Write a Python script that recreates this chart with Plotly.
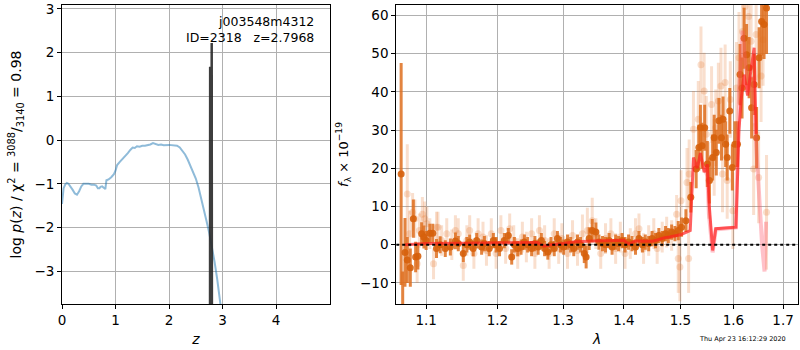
import numpy as np
import plotly.graph_objects as go

# ---------------- Left panel: p(z) ----------------
z_grid = [0.0, 0.03, 0.06, 0.09, 0.12, 0.16, 0.2, 0.24, 0.28, 0.32, 0.36, 0.4, 0.45, 0.5,
          0.55, 0.6, 0.64, 0.67, 0.7, 0.72, 0.75, 0.78, 0.81, 0.83, 0.87, 0.92, 0.97, 1.0,
          1.03, 1.08, 1.12, 1.18, 1.23, 1.28, 1.32, 1.36, 1.4, 1.45, 1.5, 1.55, 1.6, 1.65,
          1.7, 1.74, 1.8, 1.85, 1.9, 2.0, 2.1, 2.15, 2.2, 2.25, 2.3, 2.35, 2.4, 2.45, 2.5,
          2.55, 2.6, 2.65, 2.7, 2.75, 2.8, 2.85, 2.9, 2.95, 2.97]
logpz = [-1.46, -1.1, -1.02, -0.98, -1.0, -1.06, -1.14, -1.22, -1.25, -1.17, -1.06, -1.0,
         -1.0, -1.0, -1.02, -1.02, -1.04, -1.1, -1.1, -1.07, -1.06, -1.1, -1.12, -0.92, -0.9,
         -0.85, -0.78, -0.7, -0.57, -0.5, -0.45, -0.37, -0.3, -0.22, -0.17, -0.18, -0.14,
         -0.15, -0.13, -0.13, -0.12, -0.1, -0.07, -0.08, -0.11, -0.1, -0.12, -0.11, -0.12,
         -0.13, -0.17, -0.24, -0.33, -0.45, -0.58, -0.72, -0.88, -1.08, -1.32, -1.58, -1.85,
         -2.12, -2.42, -2.78, -3.18, -3.65, -3.85]
z_fine = [2.766, 2.768, 2.770, 2.793, 2.797, 2.801]
logpz_fine = [-3.9, 1.68, -3.9, -3.9, 2.22, -3.9]

obj_id = "j003548m4312"
obj_label = "ID=2318   z=2.7968"
timestamp = "Thu Apr 23 16:12:29 2020"

# ---------------- Right panel: spectrum ----------------
wave_bin = [1.067, 1.069, 1.072, 1.075, 1.079, 1.083, 1.086, 1.089, 1.094, 1.097, 1.100,
            1.105, 1.109, 1.114, 1.119, 1.126, 1.133, 1.140, 1.144, 1.151, 1.156, 1.160,
            1.165, 1.170, 1.177, 1.181, 1.188, 1.194, 1.198, 1.203, 1.210, 1.216, 1.221,
            1.225, 1.230, 1.235, 1.240, 1.245, 1.251, 1.256, 1.261, 1.266, 1.271, 1.276,
            1.281, 1.286, 1.291, 1.296, 1.301, 1.307, 1.312, 1.317, 1.323, 1.328, 1.334,
            1.337, 1.342, 1.347, 1.353, 1.358, 1.364, 1.369, 1.375, 1.380, 1.386, 1.391,
            1.397, 1.402, 1.408, 1.414, 1.420, 1.426, 1.432, 1.437, 1.443, 1.449, 1.455,
            1.461, 1.467, 1.473, 1.478, 1.484, 1.490, 1.496, 1.502, 1.510, 1.519, 1.529,
            1.534, 1.537, 1.540, 1.545, 1.550, 1.554, 1.560, 1.563, 1.567, 1.572, 1.577,
            1.580, 1.585, 1.588, 1.593, 1.598, 1.603, 1.608, 1.613, 1.617, 1.621, 1.626,
            1.631, 1.636, 1.641, 1.646, 1.651, 1.656, 1.661, 1.666]
flux_bin = [18.5, -20.0, -2.0, -4.0, -6.0, 6.8, -3.2, -3.0, 2.9, 2.0, 1.1, 3.0, 3.0, -1.0,
            0.0, -1.0, -0.6, 1.0, 0.3, -2.3, 0.0, 0.7, -1.0, 1.1, -0.6, 0.3, -1.0, 1.1, 0.0,
            -1.0, 1.1, 2.4, -3.2, 0.0, -1.0, -0.6, 0.7, 0.0, -1.0, 0.3, -0.6, 1.1, -1.0,
            -1.9, 0.0, -1.0, 1.6, 0.0, -0.6, 0.7, 0.0, -1.0, 0.7, 0.0, -2.3, -3.2, 1.6, 3.7,
            3.3, 0.7, 0.3, 0.0, 1.1, -0.6, 0.7, 0.3, 1.1, 0.0, 0.7, 0.3, -0.6, 1.6, 0.0, 0.7,
            0.3, 1.6, 1.1, 2.4, 1.6, 2.9, 2.4, 3.3, 2.9, 3.7, 4.6, 6.3, 12.4, 19.8, 25.4,
            30.6, 25.9, 30.6, 21.1, 16.8, 22.8, 28.0, 24.1, 32.4, 28.0, 32.8, 26.3, 22.8,
            35.0, 20.2, 26.3, 26.3, 44.5, 41.0, 54.0, 49.7, 46.3, 35.8, 41.9, 28.0, 48.9,
            58.4, 57.6, 61.9]
err_bin = [29.0, 13.0, 9.0, 6.0, 5.0, 5.0, 4.0, 3.5, 3.0, 3.0, 2.5, 2.5, 2.5, 2.5, 2.2,
           2.2, 2.2, 2.2, 2.0, 2.2, 2.0, 2.0, 2.0, 2.0, 2.0, 2.0, 2.0, 2.0, 2.0, 2.0, 2.0,
           2.0, 2.0, 2.0, 2.0, 2.0, 2.0, 2.0, 2.0, 2.0, 2.0, 2.0, 2.0, 2.0, 2.0, 2.0, 2.0,
           2.0, 2.0, 2.0, 2.0, 2.0, 2.0, 2.0, 2.5, 3.0, 3.0, 3.0, 2.5, 2.0, 2.0, 2.0, 2.0,
           2.0, 2.0, 2.0, 2.0, 2.0, 2.0, 2.0, 2.0, 2.0, 2.0, 2.0, 2.0, 2.0, 2.0, 2.0, 2.0,
           2.0, 2.0, 2.0, 2.0, 2.5, 2.5, 3.0, 4.0, 5.0, 6.0, 6.0, 6.0, 6.0, 6.0, 6.0, 6.0,
           6.0, 6.0, 6.0, 6.0, 6.0, 6.0, 6.0, 6.0, 6.0, 6.0, 6.0, 8.0, 8.0, 8.0, 8.0, 8.0,
           8.0, 8.0, 8.0, 8.0, 9.0, 9.0, 12.0]

wave_raw = [1.075, 1.078, 1.082, 1.085, 1.088, 1.091, 1.095, 1.098, 1.101, 1.105, 1.110,
            1.114, 1.116, 1.121, 1.128, 1.135, 1.140, 1.144, 1.151, 1.156, 1.160, 1.166,
            1.172, 1.179, 1.184, 1.191, 1.198, 1.205, 1.212, 1.218, 1.224, 1.230, 1.237,
            1.243, 1.251, 1.256, 1.263, 1.271, 1.278, 1.286, 1.293, 1.298, 1.307, 1.315,
            1.323, 1.331, 1.339, 1.347, 1.353, 1.361, 1.369, 1.378, 1.386, 1.394, 1.402,
            1.411, 1.420, 1.426, 1.434, 1.443, 1.452, 1.458, 1.467, 1.475, 1.484, 1.493,
            1.496, 1.499, 1.501, 1.512, 1.515, 1.516, 1.524, 1.533, 1.538, 1.544, 1.548,
            1.553, 1.558, 1.563, 1.566, 1.571, 1.576, 1.579, 1.584, 1.588, 1.594, 1.599,
            1.606, 1.611, 1.618, 1.623, 1.630, 1.635, 1.640, 1.645, 1.650, 1.655, 1.659,
            1.666]
flux_raw = [13.3, 2.9, 8.5, 6.8, -5.0, 3.7, 8.0, 6.8, 5.5, 2.9, -5.0, 4.6, 4.6, 1.1, 2.9,
            0.0, 3.7, 2.9, -5.4, 1.1, 3.7, -2.3, 2.9, 2.0, -1.5, 2.9, -2.3, 3.7, -1.0, 4.2,
            1.1, -2.3, 2.0, -0.6, 2.9, -2.3, 3.7, 1.1, -2.3, 2.9, -1.0, 1.6, -2.3, 2.4,
            -1.5, 2.9, 3.7, 6.3, 2.9, -2.3, 1.6, 2.9, -1.0, 2.0, -2.3, 0.3, 2.9, 4.2, -1.0,
            1.1, 2.9, -1.0, 2.0, 3.3, 2.4, 8.0, -3.6, -5.8, 11.5, 16.3, -3.6, 18.5, 30.2,
            32.8, 47.1, 40.2, 28.9, 16.8, 36.7, 22.8, 30.6, 37.6, 41.5, 18.5, 42.4, 16.8,
            38.0, 8.9, 41.0, 48.9, 55.8, 62.3, 59.7, 53.2, 19.8, 55.0, 17.6, 44.1, 53.6, 8.5]
err_raw = [13.0, 6.0, 5.0, 5.0, 5.0, 4.5, 4.5, 4.5, 4.5, 4.0, 4.0, 4.0, 4.0, 4.0, 4.0,
           4.0, 4.0, 4.0, 4.0, 4.0, 4.0, 4.0, 4.0, 4.0, 4.0, 4.0, 4.0, 4.0, 4.0, 4.0, 4.0,
           4.0, 4.0, 4.0, 4.0, 4.0, 4.0, 4.0, 4.0, 4.0, 4.0, 4.0, 4.0, 4.0, 4.0, 5.0, 6.0,
           6.0, 4.0, 4.0, 4.0, 4.0, 4.0, 4.0, 4.0, 4.0, 4.0, 4.0, 4.0, 4.0, 4.0, 4.0, 4.0,
           4.0, 4.0, 5.0, 9.0, 9.0, 8.0, 9.0, 9.0, 9.0, 10.0, 10.0, 10.0, 10.0, 10.0, 10.0,
           10.0, 10.0, 10.0, 10.0, 10.0, 10.0, 10.0, 10.0, 10.0, 10.0, 12.0, 12.0, 12.0,
           12.0, 12.0, 12.0, 12.0, 12.0, 12.0, 12.0, 12.0, 15.0]

wave_model = [1.072, 1.10, 1.15, 1.20, 1.25, 1.26, 1.27, 1.28, 1.30, 1.32, 1.35, 1.38,
              1.40, 1.405, 1.41, 1.42, 1.44, 1.45, 1.46, 1.47, 1.48, 1.49, 1.50, 1.518,
              1.524, 1.531, 1.537, 1.544, 1.550, 1.553, 1.560, 1.566, 1.605, 1.611, 1.615,
              1.621, 1.628, 1.635, 1.641, 1.645]
flux_model = [0.0, 0.3, 0.4, 0.5, 0.7, 0.6, -0.4, 0.0, 0.3, 0.8, 1.0, 1.1, 1.2, 0.5, 0.3,
              1.0, 1.0, 0.9, 1.3, 1.8, 2.0, 2.3, 2.6, 3.7, 22.8, 20.0, 24.0, 19.0, 21.0,
              11.5, -1.5, 4.2, 4.6, 30.0, 37.6, 44.5, 39.0, 46.0, 51.5, 29.0]

wave_model2 = [1.545, 1.550, 1.553, 1.560, 1.566, 1.605, 1.611, 1.618, 1.623, 1.630, 1.637,
               1.643, 1.650, 1.657, 1.662, 1.665]
flux_model2 = [20.0, 18.0, 8.0, -2.0, 4.0, 4.5, 40.0, 56.0, 48.0, 40.0, 44.0, 30.0, 12.0,
               0.0, -7.0, 6.0]

# ---------------- Figure ----------------
fig = go.Figure()

GRID = "#b0b0b0"
FONT = "DejaVu Sans"

fig.add_trace(go.Scatter(x=z_grid, y=logpz, mode="lines",
                         line=dict(color="rgba(31,119,180,0.5)", width=2),
                         xaxis="x", yaxis="y", showlegend=False, hoverinfo="skip"))
fig.add_trace(go.Scatter(x=z_fine, y=logpz_fine, mode="lines",
                         line=dict(color="rgba(40,40,40,0.9)", width=2.5),
                         xaxis="x", yaxis="y", showlegend=False, hoverinfo="skip"))

# spectrum: unbinned (light)
fig.add_trace(go.Scatter(x=wave_raw, y=flux_raw, mode="markers",
                         marker=dict(color="rgba(226,110,30,0.22)", size=7),
                         error_y=dict(type="data", array=err_raw, color="rgba(226,110,30,0.22)",
                                      thickness=3, width=0),
                         xaxis="x2", yaxis="y2", showlegend=False, hoverinfo="skip"))
# spectrum: binned (dark)
fig.add_trace(go.Scatter(x=wave_bin, y=flux_bin, mode="markers",
                         marker=dict(color="rgba(214,96,12,0.9)", size=7),
                         error_y=dict(type="data", array=err_bin, color="rgba(222,110,30,0.85)",
                                      thickness=3, width=0),
                         xaxis="x2", yaxis="y2", showlegend=False, hoverinfo="skip"))
fig.add_trace(go.Scatter(x=wave_model2, y=flux_model2, mode="lines",
                         line=dict(color="rgba(255,80,100,0.35)", width=4),
                         xaxis="x2", yaxis="y2", showlegend=False, hoverinfo="skip"))
fig.add_trace(go.Scatter(x=wave_model, y=flux_model, mode="lines",
                         line=dict(color="rgba(255,30,30,0.7)", width=3),
                         xaxis="x2", yaxis="y2", showlegend=False, hoverinfo="skip"))
fig.add_trace(go.Scatter(x=[1.0606, 1.7312], y=[0, 0], mode="lines",
                         line=dict(color="black", width=2, dash="dot"),
                         xaxis="x2", yaxis="y2", showlegend=False, hoverinfo="skip"))

axis_common = dict(showgrid=True, gridcolor=GRID, gridwidth=1, zeroline=False,
                   showline=True, mirror=True, linecolor="black", linewidth=1,
                   ticks="outside", ticklen=4, tickcolor="black",
                   ticklabeloverflow="allow",
                   tickfont=dict(family=FONT, size=13.5, color="black"))

fig.update_layout(
    width=800, height=350,
    margin=dict(l=62, r=1, t=3, b=46),
    plot_bgcolor="white", paper_bgcolor="white",
    font=dict(family=FONT, size=13.5, color="black"),
    xaxis=dict(domain=[0, 0.3636], range=[0, 5.0], tickvals=[0, 1, 2, 3, 4],
               title=dict(text="<i>z</i>", standoff=6, font=dict(size=14)),
               anchor="y", **axis_common),
    yaxis=dict(domain=[0, 1], range=[-3.75, 3.09], tickvals=[-3, -2, -1, 0, 1, 2, 3],
               title=dict(text="log <i>p</i>(<i>z</i>) / χ<sup>2</sup> = <sup>3088</sup>/<sub>3140</sub> = 0.98",
                          standoff=9, font=dict(size=14)),
               anchor="x", **axis_common),
    xaxis2=dict(domain=[0.4541, 1.0], type="log",
                range=[np.log10(1.0606), np.log10(1.7312)],
                tickvals=[1.1, 1.2, 1.3, 1.4, 1.5, 1.6, 1.7],
                ticktext=["1.1", "1.2", "1.3", "1.4", "1.5", "1.6", "1.7"],
                title=dict(text="<i>λ</i>", standoff=6, font=dict(size=14)),
                anchor="y2", **axis_common),
    yaxis2=dict(domain=[0, 1], range=[-15.5, 62.7], tickvals=[-10, 0, 10, 20, 30, 40, 50, 60],
                title=dict(text="<i>f</i><sub>λ</sub> × 10<sup>−19</sup>", standoff=8,
                           font=dict(size=13)),
                anchor="x2", **axis_common),
    annotations=[
        dict(text=obj_id + "<br>" + obj_label, xref="x", yref="y", x=4.74, y=2.53,
             xanchor="right", yanchor="middle", align="right", showarrow=False,
             font=dict(family=FONT, size=12.5, color="black")),
        dict(text=timestamp, xref="paper", yref="paper", x=0.924, y=-0.118,
             xanchor="center", yanchor="middle", showarrow=False,
             font=dict(family=FONT, size=6.5, color="black")),
    ],
)

fig.write_html("out.html", config={"displayModeBar": False},
               post_script="document.body.style.margin='0px';document.body.style.overflow='hidden';")
